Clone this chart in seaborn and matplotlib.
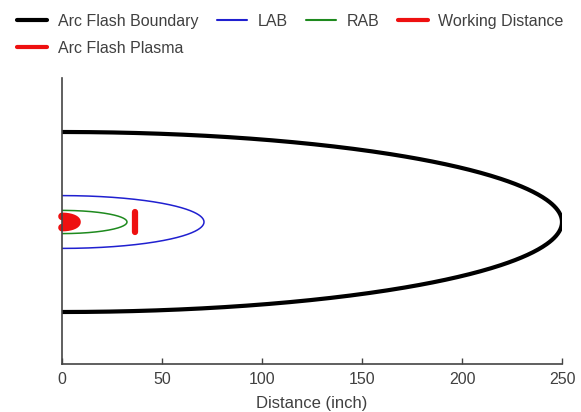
import numpy as np
import pandas as pd
import matplotlib
matplotlib.use("Agg")
import matplotlib.pyplot as plt
import seaborn as sns
from matplotlib.lines import Line2D

# ---- data (inches) ----
boundary_names = ["Arc Flash Boundary", "LAB", "RAB"]
boundary_dist = [250, 71, 32.5]        # reach along the x axis
boundary_half_height = [45, 13.2, 5.8]  # half height of the boundary envelope
boundary_colors = ["#000000", "#2020d0", "#1e8a1e"]
boundary_widths = [3.0, 1.1, 1.1]

working_distance = 36.5
working_half_height = 4.8

plasma_reach = 7.5
plasma_half_height = 2.8

x_ticks = [0, 50, 100, 150, 200, 250]

sns.set_theme(style="white")
plt.rcParams["font.family"] = ["Liberation Sans", "DejaVu Sans"]

fig = plt.figure(figsize=(5.81, 4.12), dpi=100)
ax = fig.add_axes([62 / 581, 1 - 364 / 412, 500 / 581, (364 - 78) / 412])

t = np.linspace(-np.pi / 2, np.pi / 2, 400)
for name, d, h, c, w in zip(boundary_names, boundary_dist, boundary_half_height,
                            boundary_colors, boundary_widths):
    df = pd.DataFrame({"x": d * np.cos(t), "y": h * np.sin(t)})
    sns.lineplot(data=df, x="x", y="y", sort=False, estimator=None, color=c,
                 linewidth=w, ax=ax, legend=False)

# working distance marker
wd = pd.DataFrame({"x": [working_distance, working_distance],
                   "y": [-working_half_height, working_half_height]})
sns.lineplot(data=wd, x="x", y="y", sort=False, estimator=None, color="#ee1010",
             linewidth=4.5, ax=ax, legend=False, solid_capstyle="round")

# arc flash plasma
pl = pd.DataFrame({"x": plasma_reach * np.cos(t), "y": plasma_half_height * np.sin(t)})
sns.lineplot(data=pl, x="x", y="y", sort=False, estimator=None, color="#ee1010",
             linewidth=5.5, ax=ax, legend=False, solid_capstyle="round",
             clip_on=False)
ax.fill(pl["x"], pl["y"], color="#ee1010", lw=0)

ax.set_xlim(0, 250)
ax.set_ylim(-71, 72)
ax.set_xticks(x_ticks)
ax.set_xticklabels([str(v) for v in x_ticks])
ax.set_yticks([])
ax.set_xlabel("Distance (inch)", fontsize=12, color="#404040", labelpad=6)
ax.set_ylabel("")
for s in ["top", "right"]:
    ax.spines[s].set_visible(False)
for s in ["left", "bottom"]:
    ax.spines[s].set_color("#444444")
    ax.spines[s].set_linewidth(1.2)
ax.tick_params(axis="x", direction="in", length=4, width=1.0, color="#444444",
               labelsize=11.5, labelcolor="#404040", pad=6, bottom=True)
ax.patch.set_alpha(0)

handles = [
    Line2D([], [], color="#000000", lw=3.0),
    Line2D([], [], color="#ee1010", lw=3.0),
    Line2D([], [], color="#2020d0", lw=1.5),
    Line2D([], [], color="#1e8a1e", lw=1.5),
    Line2D([], [], color="#ee1010", lw=3.0),
]
labels = ["Arc Flash Boundary", "Arc Flash Plasma", "LAB", "RAB", "Working Distance"]
fig.legend(handles, labels, ncol=4, loc="upper left",
           bbox_to_anchor=(17 / 581, 1 - 14 / 412), frameon=False,
           fontsize=11.5, labelcolor="#404040", handlelength=1.9,
           handletextpad=0.65, columnspacing=1.15, borderpad=0, borderaxespad=0,
           labelspacing=0.75)

fig.savefig("out.png", dpi=100)
